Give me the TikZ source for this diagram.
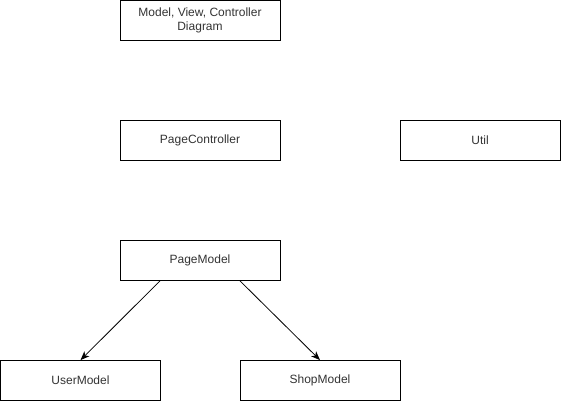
\documentclass[tikz,border=0pt]{standalone}
\usepackage{fontspec}
\setmainfont{Liberation Sans}
\usetikzlibrary{arrows.meta}
\begin{document}
\begin{tikzpicture}[x=1pt,y=-1pt,
  box/.style={draw=black,line width=0.8pt,minimum width=160pt,minimum height=40pt,inner sep=0pt,align=center,font=\fontsize{12}{14}\selectfont,text=black!80},
  conn/.style={draw=black,line width=0.8pt,-{Stealth[length=9pt,width=7pt,inset=2.5pt]}}]
\useasboundingbox (0,0) rectangle (561,401);
\node[box] (mvc) at (200,20.5) {Model, View, Controller\\Diagram};
\node[box] (pc) at (200,140.5) {PageController};
\node[box] (util) at (480,140.5) {Util};
\node[box] (pm) at (200,260.5) {PageModel};
\node[box] (um) at (80.5,380.5) {UserModel};
\node[box] (sm) at (320,380.5) {ShopModel};
\coordinate (s1) at ([xshift=-40pt]pm.south);
\coordinate (s2) at ([xshift=40pt]pm.south);
\draw[conn] (s1) -- (um.north);
\draw[conn] (s2) -- (sm.north);
\end{tikzpicture}
\end{document}
